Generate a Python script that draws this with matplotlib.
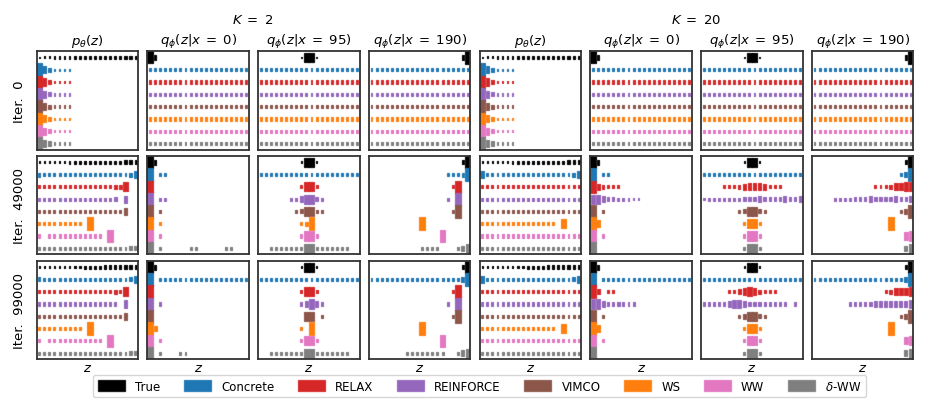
import numpy as np
import matplotlib.pyplot as plt
from matplotlib.colors import to_rgba
from matplotlib.patches import Patch

methods = ['True', 'Concrete', 'RELAX', 'REINFORCE', 'VIMCO', 'WS', 'WW', r'$\delta$-WW']
colors = ['black', '#1f77b4', '#d62728', '#9467bd', '#8c564b', '#ff7f0e', '#e377c2', '#7f7f7f']
iterations = [0, 49000, 99000]
Ks = [2, 20]
col_titles = [r'$p_\theta(z)$', r'$q_\phi(z|x\;=\;0)$', r'$q_\phi(z|x\;=\;95)$', r'$q_\phi(z|x\;=\;190)$']

# true prior and posteriors (black row), z = 0..19
true_prior = [0.017, 0.021, 0.024, 0.028, 0.031, 0.034, 0.038, 0.041, 0.045, 0.048,
              0.052, 0.055, 0.059, 0.062, 0.066, 0.069, 0.072, 0.076, 0.079, 0.083]
true_post_x0 = [0.86, 0.14, 0, 0, 0, 0, 0, 0, 0, 0,
                0, 0, 0, 0, 0, 0, 0, 0, 0, 0]
true_post_x95 = [0, 0, 0, 0, 0, 0, 0, 0, 0.015, 0.48,
                 0.5, 0.015, 0, 0, 0, 0, 0, 0, 0, 0]
true_post_x190 = [0, 0, 0, 0, 0, 0, 0, 0, 0, 0,
                  0, 0, 0, 0, 0, 0, 0, 0, 0.11, 0.89]

# learned distributions, one string per method (Concrete .. delta-WW),
# one digit per z, digit = probability bucket below
prob_levels = [0, 0.006, 0.015, 0.035, 0.0625, 0.1, 0.17, 0.3, 0.5, 0.95]

uniform_row = "44444444444444444444"
init_prior_row = "97533330000000000000"

# iteration 0 (same for both K)
it0_prior = [init_prior_row] * 7
it0_q = [uniform_row] * 7

# K = 2
k2_49000_prior = ["54444444444444444457", "44444444444444455800", "44444444444444450700",
                  "44444444444444444700", "44444444409000000000", "40444444444440900000",
                  "44444444444444444455"]
k2_49000_q0 = ["90440000000000000000", "90000000000000000000", "90440000000000000000",
               "90400000000000000000", "90400000000000000000", "90400000000000000000",
               "90400000440000044000"]
k2_49000_q95 = ["44444444444444444444", "00000000488400000000", "00000044688540000000",
                "00000004588440000000", "00000000459000000000", "00000000488400000000",
                "00444444488444444400"]
k2_49000_q190 = ["00000000000000044459", "00000000000000004900", "00000000000000040900",
                 "00000000000000004900", "00000000009000000000", "00000000000000900000",
                 "00000000004444000468"]

k2_99000_prior = ["54444444444444444457", "44444444444444454800", "44444444444444440700",
                  "44444444444444444700", "44444444409000000000", "40444444444440900000",
                  "44444444444444444455"]
k2_99000_q0 = ["90444444444444444444", "90000000000000000000", "90400000000000000000",
               "90000000000000000000", "96000000000000000000", "90400000000000000000",
               "90400044000000000000"]
k2_99000_q95 = ["44444444444444444444", "00000000488400000000", "00000000468640000000",
                "00000000088040000000", "00000000409000000000", "00000000488400000000",
                "00444444488444444400"]
k2_99000_q190 = ["44444444444444444469", "00000000000000004900", "00000000000000040900",
                 "00000000000000004900", "00000000009000000000", "00000000000000900000",
                 "00000004444444400468"]

# K = 20
k20_49000_prior = ["74444444444444444457", uniform_row, uniform_row, uniform_row,
                   "44444444444444408000", uniform_row, uniform_row]
k20_49000_q0 = ["90440000000000000000", "96544400000000000000", "88655444330000000000",
                "90400000000000000000", "97000000000000000000", "90400000000000000000",
                "90000000000000000000"]
k20_49000_q95 = [uniform_row, "00004445677764440000", "34444444555655556556",
                 "00000004588540000000", "00000000488400000000", "00000000488400000000",
                 "00000000488400000000"]
k20_49000_q190 = ["00000000000000000469", "00000000000044457788", "00004444555655556556",
                  "00000000000000000469", "00000000000000090000", "00000000000000000078",
                  "00000000000000000068"]

k20_99000_prior = ["74444444444444444457", uniform_row, uniform_row, uniform_row,
                   "44444444444444408000", uniform_row, uniform_row]
k20_99000_q0 = ["90444444444444444444", "96044000000000000000", "88655544400000000000",
                "90400000000000000000", "97000000000000000000", "90400000000000000000",
                "90000000000000000000"]
k20_99000_q95 = [uniform_row, "00000446787544400000", "44445677655544444040",
                 "00000004688540000000", "00000000488400000000", "00000000488400000000",
                 "00000000488400000000"]
k20_99000_q190 = ["44444444444444444469", "00000000000000457778", "00000004455566666667",
                  "00000000000000000469", "00000000000000090000", "00000000000000000078",
                  "00000000000000000068"]

true_rows = [true_prior, true_post_x0, true_post_x95, true_post_x190]
panels = {
    2: [[it0_prior, it0_q, it0_q, it0_q],
        [k2_49000_prior, k2_49000_q0, k2_49000_q95, k2_49000_q190],
        [k2_99000_prior, k2_99000_q0, k2_99000_q95, k2_99000_q190]],
    20: [[it0_prior, it0_q, it0_q, it0_q],
         [k20_49000_prior, k20_49000_q0, k20_49000_q95, k20_49000_q190],
         [k20_99000_prior, k20_99000_q0, k20_99000_q95, k20_99000_q190]],
}

cell_w = 1.16  # full-probability box, in z units
cell_h = 1.05  # full-probability box, in row units


def to_probs(code):
    code = (code + "0" * 20)[:20]
    return [prob_levels[int(ch)] for ch in code]


def draw_row(ax, probs, row, color):
    z = np.arange(len(probs))
    p = np.asarray(probs, dtype=float)
    keep = p > 0
    w = p[keep] ** 0.4 * cell_w
    h = p[keep] ** 0.5 * cell_h
    ax.bar(z[keep], h, width=w, bottom=row - h / 2, color=color,
           edgecolor=to_rgba(color, 0.75), linewidth=1.0)


fig, axes = plt.subplots(3, 8, figsize=(9.34, 4.14), dpi=100)
fig.subplots_adjust(left=0.0393, right=0.978, top=0.8737, bottom=0.1297,
                    wspace=0.0916, hspace=0.066)

for r, it in enumerate(iterations):
    for c in range(8):
        ax = axes[r, c]
        K = Ks[c // 4]
        kind = c % 4
        draw_row(ax, true_rows[kind], 0, colors[0])
        for m, code in enumerate(panels[K][r][kind]):
            draw_row(ax, to_probs(code), m + 1, colors[m + 1])
        ax.set_xlim(-0.5, 19.5)
        ax.set_ylim(7.5, -0.5)
        ax.set_xticks([])
        ax.set_yticks([])
        for sp in ax.spines.values():
            sp.set_linewidth(1.3)
            sp.set_color('0.2')
        if r == 0:
            ax.set_title(col_titles[kind], fontsize=9.5, pad=5)
        if r == 2:
            ax.set_xlabel('$z$', fontsize=9.5, labelpad=1)
    axes[r, 0].set_ylabel('Iter.  %d' % it, fontsize=9.5, labelpad=8)

fig.text(0.271, 0.95, r'$K\;=\;2$', ha='center', va='center', fontsize=9.5)
fig.text(0.745, 0.95, r'$K\;=\;20$', ha='center', va='center', fontsize=9.5)

handles = [Patch(facecolor=col, edgecolor=to_rgba(col, 0.75)) for col in colors]
fig.legend(handles, methods, loc='center', bbox_to_anchor=(0.5134, 0.0652), ncol=8,
           fontsize=8.5, handlelength=2.3, handleheight=0.95, handletextpad=0.85,
           columnspacing=2.0, frameon=True, edgecolor='0.8', fancybox=True)

fig.savefig('out.png', dpi=100)
